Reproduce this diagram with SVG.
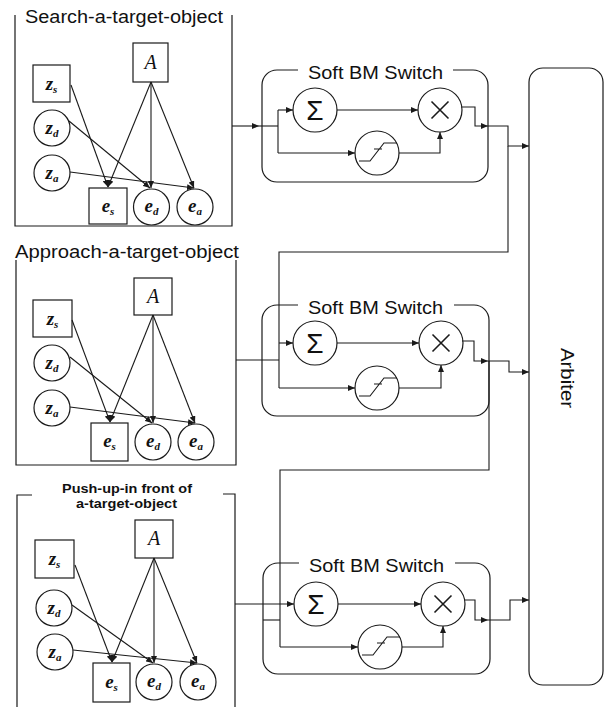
<svg xmlns="http://www.w3.org/2000/svg" width="611" height="707" viewBox="0 0 611 707">
<defs>
<marker id="ah" markerUnits="userSpaceOnUse" markerWidth="7" markerHeight="6" refX="7" refY="3" orient="auto">
<path d="M0,0 L7,3 L0,6 z" fill="#1a1a1a"/>
</marker>
<g id="sig"><path d="M-18,8 H-7 L7,-10 H20 M-3,-4 H5" fill="none" stroke="#1a1a1a" stroke-width="1.1"/></g>
<g id="mul"><path d="M-8.5,-8.5 L8.5,8.5 M-8.5,8.5 L8.5,-8.5" fill="none" stroke="#1a1a1a" stroke-width="1.6"/></g>
</defs>
<style>
.ln{fill:none;stroke:#1a1a1a;stroke-width:1.1}
.ar{marker-end:url(#ah)}
.nd{fill:#fff;stroke:#1a1a1a;stroke-width:1.2}
.bd{fill:none;stroke:#1a1a1a;stroke-width:1.2}
.v{font-family:"Liberation Serif","DejaVu Serif",serif;font-style:italic;font-weight:bold;font-size:19px;text-anchor:middle;fill:#111}
.vA{font-family:"Liberation Serif","DejaVu Serif",serif;font-style:italic;font-size:20px;text-anchor:middle;fill:#111}
.sb{font-size:11px}
.tt{font-family:"Liberation Sans",Arial,sans-serif;font-size:17.5px;fill:#111}
.t3{font-family:"Liberation Sans",Arial,sans-serif;font-weight:bold;font-size:12.5px;fill:#111;text-anchor:middle}
.sw{font-family:"Liberation Sans",Arial,sans-serif;font-size:17.5px;fill:#111;text-anchor:middle}
.sg{font-family:"Liberation Sans",Arial,sans-serif;font-size:28px;fill:#111;text-anchor:middle}
</style>
<rect width="611" height="707" fill="#fff"/>

<!-- Panel 1 -->
<g id="panel1">
<path class="bd" d="M15,15 V226 H232 V15"/>
<text class="tt" x="25" y="23" textLength="198" lengthAdjust="spacingAndGlyphs">Search-a-target-object</text>
</g>
<g id="p1-A"><rect class="nd" x="133" y="43" width="35" height="39"/><text class="vA" x="150.5" y="69">A</text></g>
<g id="p1-zs"><rect class="nd" x="33" y="65" width="37" height="37"/><text class="v" x="51.5" y="90">z<tspan class="sb" dy="3">s</tspan></text></g>
<g id="p1-zd"><circle class="nd" cx="52" cy="128" r="18"/><text class="v" x="52" y="134">z<tspan class="sb" dy="3">d</tspan></text></g>
<g id="p1-za"><circle class="nd" cx="52" cy="173" r="18"/><text class="v" x="52" y="179">z<tspan class="sb" dy="3">a</tspan></text></g>
<g id="p1-es"><rect class="nd" x="89" y="188" width="38" height="36"/><text class="v" x="108" y="212">e<tspan class="sb" dy="3">s</tspan></text></g>
<g id="p1-ed"><circle class="nd" cx="151.5" cy="207" r="18"/><text class="v" x="151.5" y="212">e<tspan class="sb" dy="3">d</tspan></text></g>
<g id="p1-ea"><circle class="nd" cx="195" cy="207" r="18"/><text class="v" x="195" y="212">e<tspan class="sb" dy="3">a</tspan></text></g>

<!-- Panel 2 -->
<g id="panel2">
<path class="bd" d="M16,260 V465 H236 V260"/>
<text class="tt" x="15" y="258" textLength="224" lengthAdjust="spacingAndGlyphs">Approach-a-target-object</text>
</g>
<g id="p2-A"><rect class="nd" x="134" y="278" width="38" height="37"/><text class="vA" x="153" y="303">A</text></g>
<g id="p2-zs"><rect class="nd" x="33" y="300" width="39" height="37"/><text class="v" x="52.5" y="325">z<tspan class="sb" dy="3">s</tspan></text></g>
<g id="p2-zd"><circle class="nd" cx="52" cy="363" r="18"/><text class="v" x="52" y="369">z<tspan class="sb" dy="3">d</tspan></text></g>
<g id="p2-za"><circle class="nd" cx="52" cy="408" r="18"/><text class="v" x="52" y="414">z<tspan class="sb" dy="3">a</tspan></text></g>
<g id="p2-es"><rect class="nd" x="91" y="423" width="37" height="38"/><text class="v" x="109.5" y="447">e<tspan class="sb" dy="3">s</tspan></text></g>
<g id="p2-ed"><circle class="nd" cx="153" cy="442" r="18"/><text class="v" x="153" y="447">e<tspan class="sb" dy="3">d</tspan></text></g>
<g id="p2-ea"><circle class="nd" cx="196" cy="442" r="18"/><text class="v" x="196" y="447">e<tspan class="sb" dy="3">a</tspan></text></g>

<!-- Panel 3 -->
<g id="panel3">
<path class="bd" d="M32,495 H17 V707 M223,494 H235 V707"/>
<text class="t3" x="127" y="493" textLength="130" lengthAdjust="spacingAndGlyphs">Push-up-in front of</text>
<text class="t3" x="126.5" y="508" textLength="101" lengthAdjust="spacingAndGlyphs">a-target-object</text>
</g>
<g id="p3-A"><rect class="nd" x="135" y="520" width="38" height="38"/><text class="vA" x="154" y="545">A</text></g>
<g id="p3-zs"><rect class="nd" x="35" y="540" width="39" height="38"/><text class="v" x="54.5" y="565">z<tspan class="sb" dy="3">s</tspan></text></g>
<g id="p3-zd"><circle class="nd" cx="54" cy="608" r="18"/><text class="v" x="54" y="614">z<tspan class="sb" dy="3">d</tspan></text></g>
<g id="p3-za"><circle class="nd" cx="55" cy="652" r="18"/><text class="v" x="55" y="658">z<tspan class="sb" dy="3">a</tspan></text></g>
<g id="p3-es"><rect class="nd" x="93" y="663" width="37" height="39"/><text class="v" x="111.5" y="688">e<tspan class="sb" dy="3">s</tspan></text></g>
<g id="p3-ed"><circle class="nd" cx="154" cy="682" r="18"/><text class="v" x="154" y="687">e<tspan class="sb" dy="3">d</tspan></text></g>
<g id="p3-ea"><circle class="nd" cx="198" cy="682" r="18"/><text class="v" x="198" y="687">e<tspan class="sb" dy="3">a</tspan></text></g>

<!-- Switch 1 -->
<g id="switch1">
<path class="bd" d="M298,70 H277 A15,15 0 0 0 262,85 V167 A15,15 0 0 0 277,182 H473 A15,15 0 0 0 488,167 V85 A15,15 0 0 0 473,70 H453"/>
<text class="sw" x="375.5" y="79" textLength="135" lengthAdjust="spacingAndGlyphs">Soft BM Switch</text>
</g>
<g id="s1-sum"><circle class="nd" cx="315" cy="110" r="22"/><text class="sg" x="315" y="120">Σ</text></g>
<g id="s1-mul"><circle class="nd" cx="440" cy="110" r="22"/><use href="#mul" x="440" y="110"/></g>
<g id="s1-sig"><circle class="nd" cx="377" cy="153" r="22"/><use href="#sig" x="377" y="153"/></g>

<!-- Switch 2 -->
<g id="switch2">
<path class="bd" d="M298,305 H277 A15,15 0 0 0 262,320 V401 A15,15 0 0 0 277,416 H474 A15,15 0 0 0 489,401 V320 A15,15 0 0 0 474,305 H454"/>
<text class="sw" x="375.5" y="314" textLength="135" lengthAdjust="spacingAndGlyphs">Soft BM Switch</text>
</g>
<g id="s2-sum"><circle class="nd" cx="315" cy="343" r="22"/><text class="sg" x="315" y="353">Σ</text></g>
<g id="s2-mul"><circle class="nd" cx="441" cy="343" r="22"/><use href="#mul" x="441" y="343"/></g>
<g id="s2-sig"><circle class="nd" cx="377" cy="388" r="22"/><use href="#sig" x="377" y="388"/></g>

<!-- Switch 3 -->
<g id="switch3">
<path class="bd" d="M299,563 H278 A15,15 0 0 0 263,578 V659 A15,15 0 0 0 278,674 H475 A15,15 0 0 0 490,659 V578 A15,15 0 0 0 475,563 H455"/>
<text class="sw" x="376.5" y="572" textLength="135" lengthAdjust="spacingAndGlyphs">Soft BM Switch</text>
</g>
<g id="s3-sum"><circle class="nd" cx="316" cy="604" r="22"/><text class="sg" x="316" y="614">Σ</text></g>
<g id="s3-mul"><circle class="nd" cx="443" cy="604" r="22"/><use href="#mul" x="443" y="604"/></g>
<g id="s3-sig"><circle class="nd" cx="380" cy="647" r="22"/><use href="#sig" x="380" y="647"/></g>

<!-- Arbiter -->
<g id="arbiter">
<rect class="bd" x="529" y="68" width="74" height="617" rx="14"/>
<text class="sw" transform="translate(566.5,378) rotate(90)" x="0" y="6" font-size="18" textLength="60" lengthAdjust="spacingAndGlyphs">Arbiter</text>
</g>

<!-- Connectors -->
<g id="connectors">
<path class="ln ar" d="M71,85 L108,187"/>
<path class="ln ar" d="M69,121 L150,188"/>
<path class="ln ar" d="M70,172 L194,188"/>
<path class="ln ar" d="M151,82 L108,187"/>
<path class="ln ar" d="M151,82 L151,188"/>
<path class="ln ar" d="M151,82 L194,188"/>
<path class="ln ar" d="M72,320 L110,422"/>
<path class="ln ar" d="M70,357 L152,423"/>
<path class="ln ar" d="M70,407 L195,423"/>
<path class="ln ar" d="M153,315 L110,422"/>
<path class="ln ar" d="M153,315 L153,423"/>
<path class="ln ar" d="M153,315 L195,423"/>
<path class="ln ar" d="M75,565 L112,662"/>
<path class="ln ar" d="M72,605 L153,663"/>
<path class="ln ar" d="M73,650 L197,663"/>
<path class="ln ar" d="M154,558 L112,662"/>
<path class="ln ar" d="M154,558 L154,663"/>
<path class="ln ar" d="M154,558 L197,663"/>
<path class="ln ar" d="M232,126 H259"/>
<path class="ln" d="M259,126 H278"/>
<path class="ln" d="M278,110 V153"/>
<path class="ln ar" d="M278,110 H293"/>
<path class="ln ar" d="M278,153 H355"/>
<path class="ln ar" d="M337,110 H418"/>
<path class="ln ar" d="M399,153 H440 V132"/>
<path class="ln ar" d="M461,107 H475 V126 H488"/>
<path class="ln ar" d="M488,126 H508 V146 H529"/>
<path class="ln" d="M508,146 V252 H279 V388"/>
<path class="ln" d="M236,360 H279"/>
<path class="ln ar" d="M279,343 H293"/>
<path class="ln ar" d="M279,388 H355"/>
<path class="ln ar" d="M337,343 H419"/>
<path class="ln ar" d="M399,388 H441 V365"/>
<path class="ln ar" d="M462,341 H474 V361 H488"/>
<path class="ln ar" d="M488,361 H509 V372 H529"/>
<path class="ln" d="M489,361 V470 H280 V647"/>
<path class="ln ar" d="M235,604 H294"/>
<path class="ln" d="M263,620 H280"/>
<path class="ln ar" d="M280,647 H358"/>
<path class="ln ar" d="M338,604 H421"/>
<path class="ln ar" d="M402,647 H443 V626"/>
<path class="ln ar" d="M464,600 H475 V620 H488"/>
<path class="ln ar" d="M488,620 H510 V600 H529"/>
</g>
</svg>
